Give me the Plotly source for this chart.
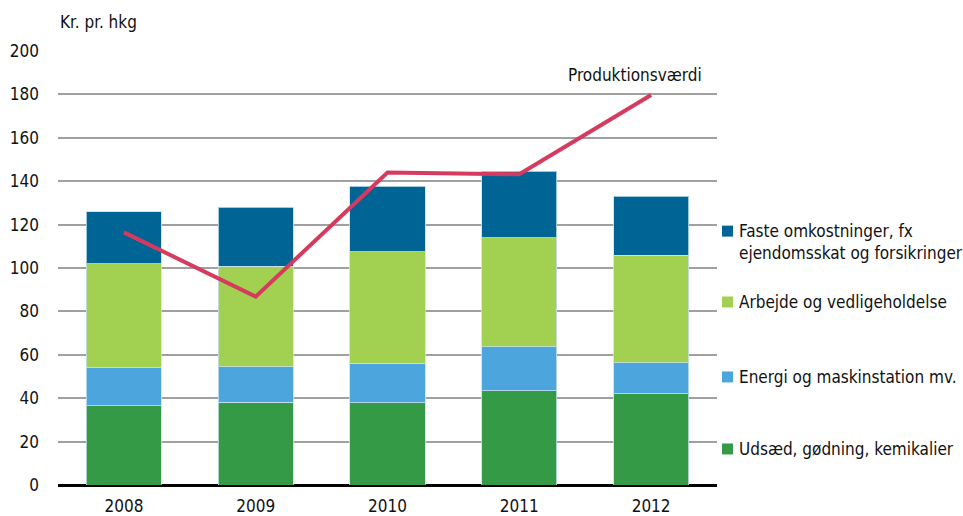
import plotly.graph_objects as go

years = ["2008", "2009", "2010", "2011", "2012"]
udsaed = [36.5, 38.2, 38.0, 43.4, 42.0]
energi = [17.5, 16.3, 18.0, 20.3, 14.4]
arbejde = [48.0, 46.2, 51.6, 50.3, 49.4]
faste = [24.0, 27.3, 30.0, 30.6, 27.2]
produktion = [116.4, 86.8, 144.0, 143.2, 179.7]

series = [
    ("Udsæd, gødning, kemikalier", udsaed, "#359a46"),
    ("Energi og maskinstation mv.", energi, "#4ca6dd"),
    ("Arbejde og vedligeholdelse", arbejde, "#a2d152"),
    ("Faste omkostninger, fx<br>ejendomsskat og forsikringer", faste, "#006494"),
]

FONT = "DejaVu Sans Condensed, Liberation Sans Narrow, Arial Narrow, sans-serif"

fig = go.Figure()
for name, vals, col in series:
    fig.add_trace(go.Bar(x=years, y=vals, name=name,
                         marker=dict(color=col, line=dict(color="rgba(200,225,240,0.8)", width=1)),
                         showlegend=False))

fig.add_trace(go.Scatter(x=years, y=produktion, mode="lines",
                         line=dict(color="#d63a5e", width=4), showlegend=False))

fig.update_layout(
    barmode="stack",
    bargap=0.43,
    width=963, height=516,
    margin=dict(l=58, r=246, t=51, b=31),
    plot_bgcolor="white", paper_bgcolor="white",
    font=dict(family=FONT, size=17, color="#111111"),
    xaxis=dict(type="category", range=[-0.5, len(years) - 0.5], showgrid=False, ticks="",
               tickfont=dict(size=17), showline=False, automargin=False, fixedrange=True,
               ticklabelstandoff=9),
    yaxis=dict(range=[0, 200], dtick=20, showgrid=True, gridcolor="#a0a0a0", gridwidth=2,
               zeroline=True, zerolinecolor="#000000", zerolinewidth=3, ticks="", ticklabelstandoff=18,
               tickfont=dict(size=17), fixedrange=True, automargin=False),
    showlegend=False,
)

fig.add_annotation(xref="paper", yref="paper", x=0.0, y=1.0, yshift=17, xanchor="left", yanchor="bottom",
                   text="Kr. pr. hkg", showarrow=False, font=dict(size=17))
fig.add_annotation(x=len(years) - 1, y=produktion[-1], xanchor="center", yanchor="bottom", yshift=8, xshift=-16,
                   text="Produktionsværdi", showarrow=False, font=dict(size=17))

# custom legend
legend_items = [
    ("#006494", "Faste omkostninger, fx<br>ejendomsskat og forsikringer", 0.585),
    ("#a2d152", "Arbejde og vedligeholdelse", 0.4217),
    ("#4ca6dd", "Energi og maskinstation mv.", 0.249),
    ("#359a46", "Udsæd, gødning, kemikalier", 0.083),
]
sq_w, sq_h = 0.0167, 0.0253
for col, txt, yy in legend_items:
    fig.add_shape(type="rect", xref="paper", yref="paper", x0=1.0076, x1=1.0076 + sq_w,
                  y0=yy - sq_h / 2, y1=yy + sq_h / 2, fillcolor=col, line=dict(width=0))
    fig.add_annotation(xref="paper", yref="paper", x=1.030, y=yy, xanchor="left", yanchor="top",
                       yshift=12, text=txt, showarrow=False, align="left", font=dict(size=17))

fig.write_html("out.html", config={"displayModeBar": False},
               post_script="document.body.style.margin='0';document.body.style.overflow='hidden';")
